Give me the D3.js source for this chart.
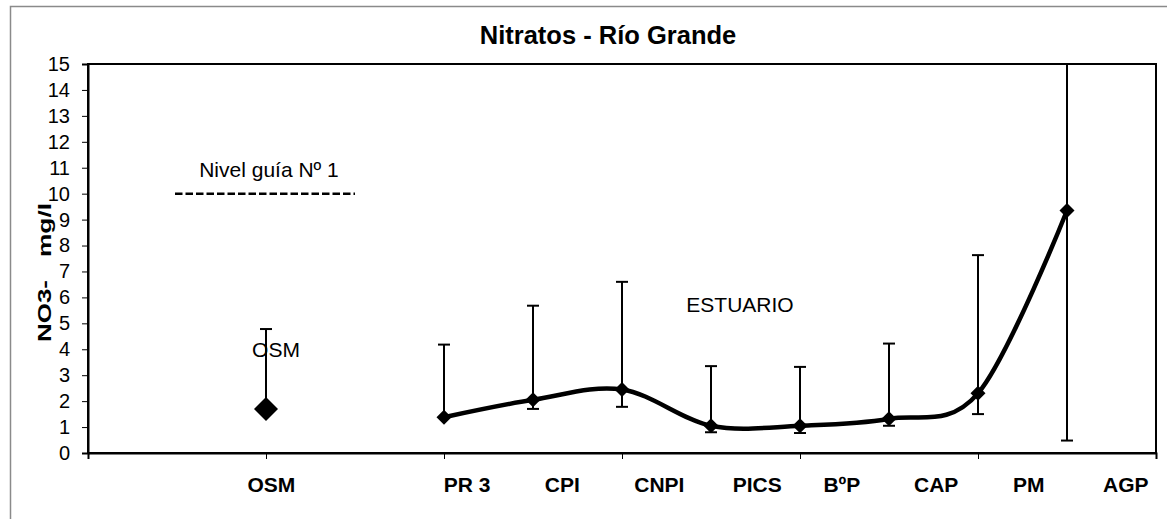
<!DOCTYPE html>
<html>
<head>
<meta charset="utf-8">
<script src="https://cdnjs.cloudflare.com/ajax/libs/d3/7.8.5/d3.min.js"></script>
</head>
<style>
body {
    margin: 0;
    background: #fff;
}
text {
    font-family: Arial, "Liberation Sans", sans-serif;
    fill: #000;
}
</style>
<body>
<svg id="canvas"></svg>
<script>

// category slots along the x axis (12 intervals, points sit on the ticks)
const slotCount = 12;
const xLabels = ['OSM', 'PR 3', 'CPI', 'CNPI', 'PICS', 'BºP', 'CAP', 'PM', 'AGP'];
const xLabelAt = [2.06, 4.26, 5.33, 6.42, 7.52, 8.47, 9.53, 10.57, 11.66];

// OSM station, separate series (big marker, no line)
const osmSlot = 2;
const osmValue = 1.70;
const osmUpper = 4.78;

// estuary series
const estSlots = [4, 5, 6, 7, 8, 9, 10, 11];
const estValues = [1.38, 2.05, 2.45, 1.05, 1.05, 1.32, 2.30, 9.35];
const estUpper = [4.18, 5.68, 6.60, 3.35, 3.32, 4.22, 7.63, 16.5];
const estLower = [null, 1.70, 1.78, 0.80, 0.77, 1.05, 1.50, 0.48];

const yTicks = d3.range(0, 16);
const guideLevel = 10;

const W = 1167, H = 519;
const margin = { left: 88, right: W - 1156, top: 64, bottom: H - 453 };

const svg = d3.select('svg#canvas')
    .attr('width', W)
    .attr('height', H);

// outer chart frame (cut by the page edge)
svg.append('path')
    .attr('d', `M10.5,${H} V6.5 H${W}`)
    .attr('fill', 'none')
    .attr('stroke', '#8a8a8a')
    .attr('stroke-width', 1.5);

const x = d3.scaleLinear().domain([0, slotCount]).range([margin.left, W - margin.right]);
const y = d3.scaleLinear().domain([0, 15]).range([H - margin.bottom, margin.top]);

const defs = svg.append('defs');
defs.append('clipPath').attr('id', 'plot-clip')
    .append('rect')
    .attr('x', x(0)).attr('y', y(15))
    .attr('width', x(slotCount) - x(0)).attr('height', y(0) - y(15));

// title
svg.append('text')
    .attr('x', 608)
    .attr('y', 44)
    .attr('text-anchor', 'middle')
    .style('font-weight', 'bold')
    .style('font-size', '25.5px')
    .text('Nitratos - Río Grande');

// plot border
svg.append('rect')
    .attr('x', x(0)).attr('y', y(15))
    .attr('width', x(slotCount) - x(0)).attr('height', y(0) - y(15))
    .attr('fill', 'none')
    .attr('stroke', '#000')
    .attr('stroke-width', 2);

// y axis
const yAxis = svg.append('g')
    .attr('transform', `translate(${x(0)},0)`)
    .call(d3.axisLeft(y).tickValues(yTicks).tickSize(6).tickPadding(12).tickFormat(d3.format('d')));
yAxis.select('.domain').attr('stroke-width', 2);
yAxis.selectAll('.tick line').attr('stroke-width', 1);
yAxis.selectAll('.tick text')
    .style('font-size', '20px')
    .style('font-family', 'Arial, "Liberation Sans", sans-serif');

// x axis: ticks every second slot, labels placed on their own positions
const xAxis = svg.append('g')
    .attr('transform', `translate(0,${y(0)})`)
    .call(d3.axisBottom(x).tickValues(d3.range(0, slotCount + 1, 2)).tickSize(6).tickFormat(''));
xAxis.select('.domain').attr('stroke-width', 2);

svg.append('g').selectAll('text')
    .data(xLabels)
    .join('text')
    .attr('x', (d, i) => x(xLabelAt[i]))
    .attr('y', 492)
    .attr('text-anchor', 'middle')
    .style('font-weight', 'bold')
    .style('font-size', '21px')
    .text(d => d);

// y axis title, two words spread along the axis
const yTitle = [
    { t: 'NO3-', c: 311, len: 62 },
    { t: 'mg/l', c: 230, len: 54 }
];
svg.append('g').selectAll('text')
    .data(yTitle)
    .join('text')
    .attr('transform', d => `translate(51,${d.c}) rotate(-90)`)
    .attr('text-anchor', 'middle')
    .attr('textLength', d => d.len)
    .attr('lengthAdjust', 'spacingAndGlyphs')
    .style('font-weight', 'bold')
    .style('font-size', '19px')
    .text(d => d.t);

// guide level
svg.append('line')
    .attr('x1', 175).attr('x2', 355)
    .attr('y1', y(guideLevel)).attr('y2', y(guideLevel))
    .attr('stroke', '#000')
    .attr('stroke-width', 2.5)
    .attr('stroke-dasharray', '7.5,3');
svg.append('text')
    .attr('x', 269).attr('y', 177)
    .attr('text-anchor', 'middle')
    .style('font-size', '21px')
    .text('Nivel guía Nº 1');

// annotations
svg.append('text')
    .attr('x', 740).attr('y', 312)
    .attr('text-anchor', 'middle')
    .style('font-size', '21px')
    .text('ESTUARIO');

const plot = svg.append('g').attr('clip-path', 'url(#plot-clip)');

// error bars
const CAP = 6;
const bars = estSlots.map((s, i) => ({ s: s, v: estValues[i], hi: estUpper[i], lo: estLower[i] }));
bars.push({ s: osmSlot, v: osmValue, hi: osmUpper, lo: null });

bars.forEach(b => {
    const top = b.hi, bot = b.lo == null ? b.v : b.lo;
    plot.append('line')
        .attr('x1', x(b.s)).attr('x2', x(b.s))
        .attr('y1', y(top)).attr('y2', y(bot))
        .attr('stroke', '#000').attr('stroke-width', 2);
    plot.append('line')
        .attr('x1', x(b.s) - CAP).attr('x2', x(b.s) + CAP)
        .attr('y1', y(top)).attr('y2', y(top))
        .attr('stroke', '#000').attr('stroke-width', 2);
    if (b.lo != null) {
        plot.append('line')
            .attr('x1', x(b.s) - CAP).attr('x2', x(b.s) + CAP)
            .attr('y1', y(b.lo)).attr('y2', y(b.lo))
            .attr('stroke', '#000').attr('stroke-width', 2);
    }
});

// OSM label sits over its error bar
svg.append('text')
    .attr('x', 276).attr('y', 357)
    .attr('text-anchor', 'middle')
    .style('font-size', '21px')
    .text('OSM');

// smoothed line
const line = d3.line()
    .x((d, i) => x(estSlots[i]))
    .y(d => y(d))
    .curve(d3.curveCardinal.tension(0));

plot.append('path')
    .datum(estValues)
    .attr('d', line)
    .attr('fill', 'none')
    .attr('stroke', '#000')
    .attr('stroke-width', 4.5);

// markers
const diamond = r => `M0,${-r}L${r},0L0,${r}L${-r},0Z`;

plot.selectAll('path.mk')
    .data(estValues)
    .join('path')
    .classed('mk', true)
    .attr('transform', (d, i) => `translate(${x(estSlots[i])},${y(d)})`)
    .attr('d', diamond(7.5))
    .attr('fill', '#000');

plot.append('path')
    .attr('transform', `translate(${x(osmSlot)},${y(osmValue)})`)
    .attr('d', diamond(12))
    .attr('fill', '#000');

</script>
</body>
</html>
